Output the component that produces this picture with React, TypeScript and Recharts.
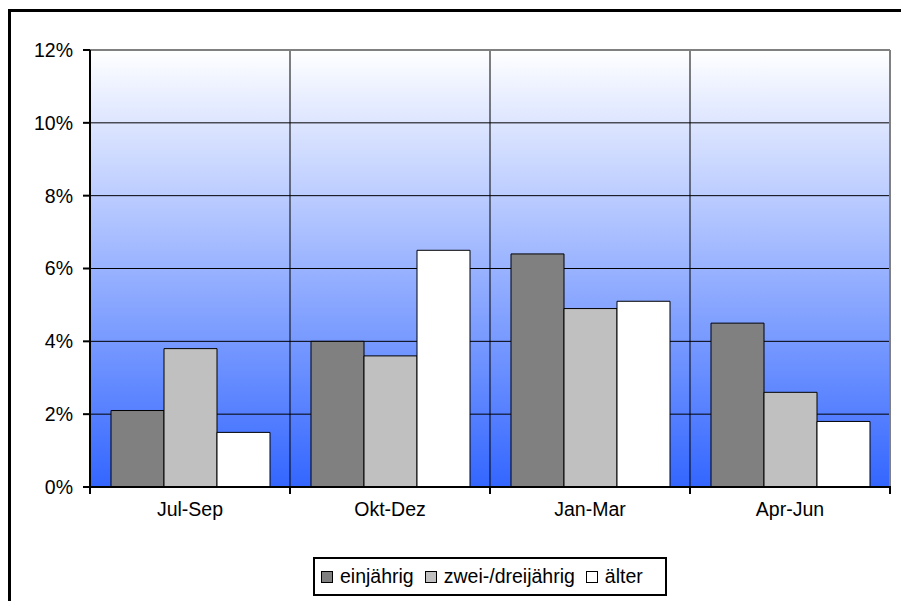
import React from "react";
import {
  BarChart,
  Bar,
  XAxis,
  YAxis,
  CartesianGrid,
  Legend,
  ReferenceLine,
} from "recharts";

// Quartale und Anteile (in %) je Altersgruppe
const quarters = ["Jul-Sep", "Okt-Dez", "Jan-Mar", "Apr-Jun"];
const einjaehrig = [2.1, 4.0, 6.4, 4.5];
const zweiDrei = [3.8, 3.6, 4.9, 2.6];
const aelter = [1.5, 6.5, 5.1, 1.8];
const yTicks = [0, 2, 4, 6, 8, 10, 12];

const data = quarters.map((q, i) => ({
  quarter: q,
  einjaehrig: einjaehrig[i],
  zweiDrei: zweiDrei[i],
  aelter: aelter[i],
}));

const FONT = "'Liberation Sans', Arial, sans-serif";

// label centred in the band plus a tick mark on the band borders
function QuarterTick(props: any) {
  const { x, y, payload, index } = props;
  const half = payload.offset || 0;
  const axisY = y - 15;
  const isLast = index === quarters.length - 1;
  return (
    <g>
      <line x1={x - half} x2={x - half} y1={axisY - 1} y2={axisY + 7} stroke="#000" strokeWidth={2} />
      {isLast && (
        <line x1={x + half} x2={x + half} y1={axisY - 1} y2={axisY + 7} stroke="#000" strokeWidth={2} />
      )}
      <text x={x} y={y} dy="0.71em" textAnchor="middle" fill="#000" fontSize={19.5} fontFamily={FONT}>
        {payload.value}
      </text>
    </g>
  );
}

function LegendBox({ payload }: any) {
  return (
    <div
      style={{
        boxSizing: "border-box",
        width: "100%",
        height: "100%",
        border: "2px solid #000",
        background: "#fff",
        display: "flex",
        alignItems: "center",
        paddingLeft: 6,
        fontFamily: FONT,
        fontSize: 19.5,
        color: "#000",
      }}
    >
      {(payload || []).map((p: any) => (
        <div key={p.value} style={{ display: "flex", alignItems: "center", marginRight: 11 }}>
          <span
            style={{
              display: "inline-block",
              boxSizing: "border-box",
              width: 12,
              height: 12,
              background: p.color,
              border: "1px solid #000",
              marginRight: 7,
            }}
          />
          <span>{p.value}</span>
        </div>
      ))}
    </div>
  );
}

export default function App() {
  return (
    <div
      style={{
        position: "absolute",
        left: 0,
        top: 0,
        width: 901,
        height: 601,
        overflow: "hidden",
        background: "#fff",
      }}
    >
      <div
        style={{
          position: "absolute",
          left: 8,
          top: 9,
          width: 1000,
          height: 700,
          borderLeft: "3px solid #000",
          borderTop: "3px solid #000",
        }}
      />
      <div style={{ position: "absolute", left: 0, top: 0 }}>
        <BarChart
          width={901}
          height={601}
          data={data}
          margin={{ top: 50, right: 11, left: 0, bottom: 74 }}
          barCategoryGap="10.5%"
          barGap={0}
          style={{ fontFamily: FONT }}
        >
          <defs>
            <linearGradient id="plotBg" x1="0" y1="0" x2="0" y2="1">
              <stop offset="0%" stopColor="#ffffff" />
              <stop offset="100%" stopColor="#3366ff" />
            </linearGradient>
          </defs>
          <CartesianGrid
            vertical={false}
            fill="url(#plotBg)"
            fillOpacity={1}
            stroke="#000"
            strokeWidth={1}
          />
          {quarters.slice(1).map((q) => (
            <ReferenceLine key={q} x={q} position="start" stroke="#000" strokeWidth={1} />
          ))}
          <ReferenceLine x={quarters[quarters.length - 1]} position="end" stroke="#808080" strokeWidth={2} />
          <ReferenceLine y={12} stroke="#808080" strokeWidth={2} />
          <XAxis
            dataKey="quarter"
            height={40}
            axisLine={{ stroke: "#000", strokeWidth: 2 }}
            tickLine={false}
            tickSize={0}
            tickMargin={15}
            tick={<QuarterTick />}
          />
          <YAxis
            width={90}
            domain={[0, 12]}
            ticks={yTicks}
            tickFormatter={(v) => `${v}%`}
            tickSize={7}
            tickMargin={10}
            axisLine={{ stroke: "#000", strokeWidth: 2 }}
            tickLine={{ stroke: "#000", strokeWidth: 2 }}
            tick={{ fill: "#000", fontSize: 19.5, fontFamily: FONT }}
          />
          <Legend
            layout="vertical"
            align="center"
            verticalAlign="middle"
            content={<LegendBox />}
            wrapperStyle={{ left: 313, top: 557, width: 354, height: 39 }}
          />
          <Bar dataKey="einjaehrig" name="einjährig" fill="#808080" stroke="#000" strokeWidth={1} isAnimationActive={false} />
          <Bar dataKey="zweiDrei" name="zwei-/dreijährig" fill="#c0c0c0" stroke="#000" strokeWidth={1} isAnimationActive={false} />
          <Bar dataKey="aelter" name="älter" fill="#ffffff" stroke="#000" strokeWidth={1} isAnimationActive={false} />
        </BarChart>
      </div>
    </div>
  );
}
